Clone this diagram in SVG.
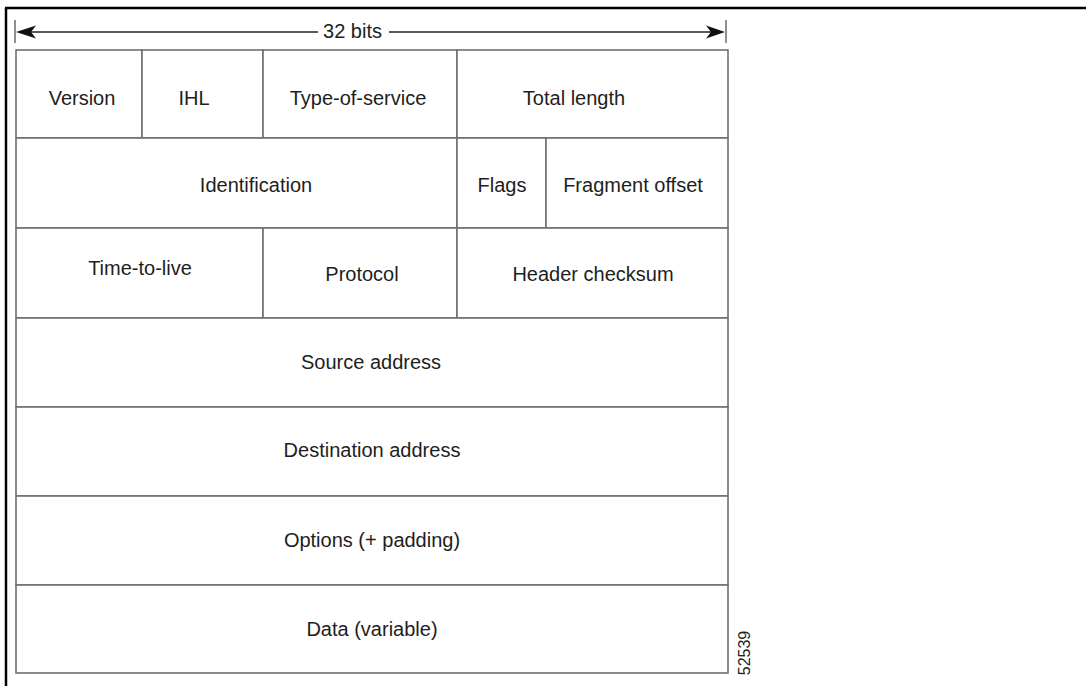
<svg xmlns="http://www.w3.org/2000/svg" width="1086" height="686" viewBox="0 0 1086 686">
<style>
.frame{stroke:#000;stroke-width:2.5;fill:none}
.cell{fill:#fff;stroke:#707070;stroke-width:1.6}
.t{font-family:"Liberation Sans",Arial,sans-serif;font-size:20px;fill:#1e1e1e;text-anchor:middle}
.dim{stroke:#222;stroke-width:1.6;fill:none}
.tick{stroke:#444;stroke-width:1.2}
.head{fill:#111}
.id{font-family:"Liberation Sans",Arial,sans-serif;font-size:16px;fill:#222;text-anchor:middle}
</style>
<rect width="1086" height="686" fill="#fff"/>
<g id="frame">
<line class="frame" x1="5" y1="8" x2="1086" y2="8"/>
<line class="frame" x1="6" y1="8" x2="6" y2="686"/>
</g>
<g id="connectors">
<line class="tick" x1="15" y1="20" x2="15" y2="43"/>
<line class="tick" x1="726" y1="20" x2="726" y2="43"/>
<line class="dim" x1="20" y1="32" x2="318" y2="32"/>
<line class="dim" x1="389" y1="32" x2="720" y2="32"/>
<path class="head" d="M16,32 L36,25.5 L31,32 L36,38.5 Z"/>
<path class="head" d="M725,32 L706,25.5 L711,32 L706,38.5 Z"/>
<text class="t" x="352.5" y="38">32 bits</text>
</g>
<g id="version"><rect class="cell" x="16" y="50" width="126" height="88"/><text class="t" x="82" y="105">Version</text></g>
<g id="ihl"><rect class="cell" x="142" y="50" width="121" height="88"/><text class="t" x="194" y="105">IHL</text></g>
<g id="tos"><rect class="cell" x="263" y="50" width="194" height="88"/><text class="t" x="358" y="105">Type-of-service</text></g>
<g id="total-length"><rect class="cell" x="457" y="50" width="271" height="88"/><text class="t" x="574" y="105">Total length</text></g>
<g id="identification"><rect class="cell" x="16" y="138" width="441" height="90"/><text class="t" x="256" y="192">Identification</text></g>
<g id="flags"><rect class="cell" x="457" y="138" width="89" height="90"/><text class="t" x="502" y="192">Flags</text></g>
<g id="fragment-offset"><rect class="cell" x="546" y="138" width="182" height="90"/><text class="t" x="633" y="192">Fragment offset</text></g>
<g id="ttl"><rect class="cell" x="16" y="228" width="247" height="90"/><text class="t" x="140" y="275">Time-to-live</text></g>
<g id="protocol"><rect class="cell" x="263" y="228" width="194" height="90"/><text class="t" x="362" y="281">Protocol</text></g>
<g id="header-checksum"><rect class="cell" x="457" y="228" width="271" height="90"/><text class="t" x="593" y="281">Header checksum</text></g>
<g id="source"><rect class="cell" x="16" y="318" width="712" height="89"/><text class="t" x="371" y="369">Source address</text></g>
<g id="destination"><rect class="cell" x="16" y="407" width="712" height="89"/><text class="t" x="372" y="457">Destination address</text></g>
<g id="options"><rect class="cell" x="16" y="496" width="712" height="89"/><text class="t" x="372" y="547">Options (+ padding)</text></g>
<g id="data"><rect class="cell" x="16" y="585" width="712" height="88"/><text class="t" x="372" y="636">Data (variable)</text></g>
<g id="figure-id"><text class="id" transform="translate(750,653) rotate(-90)">52539</text></g>
</svg>
